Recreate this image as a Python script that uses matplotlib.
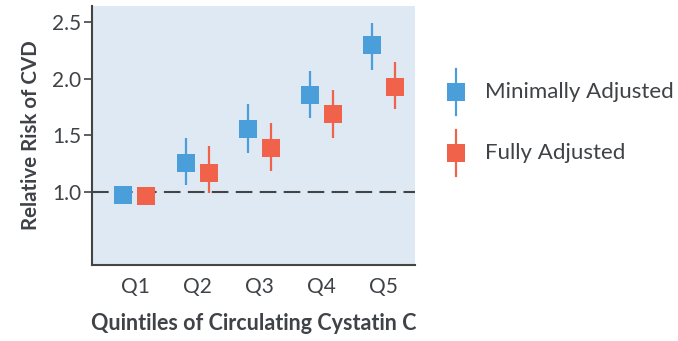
import matplotlib.pyplot as plt
from matplotlib.lines import Line2D

plt.rcParams['font.family'] = ['Lato', 'DejaVu Sans']

quintiles = ['Q1', 'Q2', 'Q3', 'Q4', 'Q5']

# point estimates and confidence limits
minimal_rr = [0.98, 1.26, 1.56, 1.86, 2.30]
minimal_lo = [0.98, 1.06, 1.35, 1.65, 2.08]
minimal_hi = [0.98, 1.48, 1.78, 2.07, 2.49]

full_rr = [0.97, 1.17, 1.39, 1.69, 1.93]
full_lo = [0.97, 0.99, 1.19, 1.48, 1.73]
full_hi = [0.97, 1.41, 1.61, 1.90, 2.15]

blue = '#4a9fdb'
red = '#f0634a'
text_col = '#3f4246'

fig = plt.figure(figsize=(6.78, 3.41), dpi=100)
ax = fig.add_axes([0.1357, 0.2229, 0.612 - 0.1357, 0.9824 - 0.2229])
ax.set_facecolor('#dee9f4')

x = list(range(1, len(quintiles) + 1))
off = 0.185

ax.axhline(1.0, color='#444444', lw=1.5, dashes=(8, 3.5), zorder=1)

for xs, rr, lo, hi, col in [
    ([v - off for v in x], minimal_rr, minimal_lo, minimal_hi, blue),
    ([v + off for v in x], full_rr, full_lo, full_hi, red),
]:
    err = [[r - l for r, l in zip(rr, lo)], [h - r for r, h in zip(rr, hi)]]
    ax.errorbar(xs, rr, yerr=err, fmt='s', color=col, ecolor=col,
                elinewidth=1.6, capsize=0, markersize=12.5,
                markeredgewidth=0, zorder=3)

ax.set_xlim(0.31, 5.5)
ax.set_ylim(0.36, 2.64)
ax.set_yticks([1.0, 1.5, 2.0, 2.5])
ax.set_yticklabels(['1.0', '1.5', '2.0', '2.5'])
ax.set_xticks(x)
ax.set_xticklabels(quintiles)

for s in ['top', 'right']:
    ax.spines[s].set_visible(False)
for s in ['left', 'bottom']:
    ax.spines[s].set_color('#444444')
    ax.spines[s].set_linewidth(1.5)

ax.tick_params(axis='y', length=6, width=1.2, color='#444444',
               labelsize=15, labelcolor=text_col, pad=2)
ax.tick_params(axis='x', length=0, labelsize=15, labelcolor=text_col, pad=9)

ax.set_xlabel('Quintiles of Circulating Cystatin C', fontsize=15.5,
              fontweight='bold', color=text_col, labelpad=11)
ax.set_ylabel('Relative Risk of CVD', fontsize=14.8,
              fontweight='bold', color=text_col, labelpad=8)

# legend drawn by hand to match the tall whisker glyph
for yy, col, label in [(0.73, blue, 'Minimally Adjusted'),
                       (0.552, red, 'Fully Adjusted')]:
    fig.add_artist(Line2D([0.673, 0.673], [yy - 0.068, yy + 0.068],
                          color=col, lw=1.6, transform=fig.transFigure))
    fig.add_artist(Line2D([0.673], [yy], color=col, marker='s',
                          markersize=12.5, markeredgewidth=0,
                          transform=fig.transFigure))
    fig.text(0.715, yy, label, fontsize=16, color=text_col,
             va='center', ha='left')

fig.savefig('out.png', dpi=100)
